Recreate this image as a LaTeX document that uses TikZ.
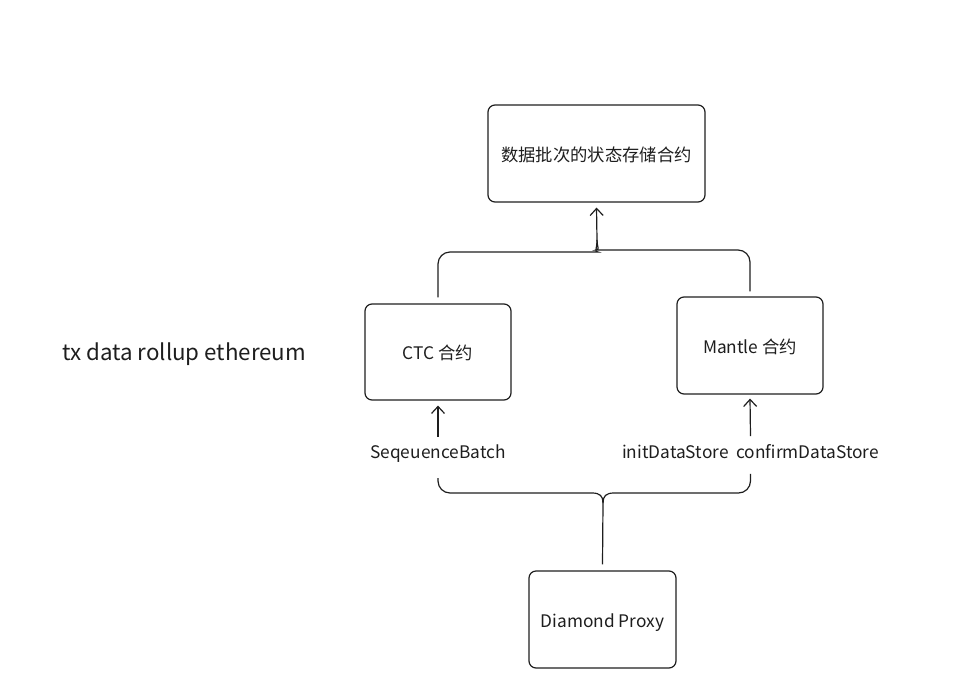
\documentclass[tikz,border=0pt]{standalone}
\usepackage{fontspec}
\setmainfont{Noto Sans CJK SC}
\usepackage{tikz}
\usetikzlibrary{positioning}
\usetikzlibrary{arrows.meta}
\definecolor{ink}{HTML}{1E1E1E}

\begin{document}
\begin{tikzpicture}[x=1pt, y=-1pt,
        box/.style={draw=ink, line width=1.2pt, rounded corners=7pt, minimum width=146pt, minimum height=96pt, text height=15pt, text depth=0pt, font=\fontsize{17.3}{19}\selectfont, text=ink},
        lbl/.style={font=\fontsize{17.3}{19}\selectfont, text=ink, inner sep=0pt},
        wire/.style={draw=ink, line width=1.2pt, rounded corners=12pt},
        up/.style={draw=ink, line width=1.2pt, -{Straight Barb[length=7pt,width=13pt]}}]
    \useasboundingbox (0,0) rectangle (971,693);
    \node[box, minimum width=217pt, minimum height=97pt] (store) at (596.5,153.5) {数据批次的状态存储合约};   %top
    \node[box] (ctc) at (438,352) {CTC 合约};
    \node[box, minimum height=97pt] (mantle) at (750,345.5) {Mantle 合约};
    \node[box, minimum width=147pt, minimum height=97pt] (proxy) at (602.5,619.5) {Diamond Proxy};   %bottom
    \node[anchor=west, font=\fontsize{22.3}{24}\selectfont, text=ink, inner sep=0pt] (title) at (62,354) {tx data rollup ethereum};
    \node[lbl] (seq) at (438,454) {SeqeuenceBatch};
    \node[lbl] (ds) at (750.5,451.5) {initDataStore\ \ confirmDataStore};

    \coordinate (jt) at (597,240);   %upper join
    \coordinate (jb) at (603,503);   %lower join
    \draw[wire] ([yshift=6pt]ctc.north) |- (586,252) [sharp corners] .. controls (594,252) and (597,249) .. (jt);
    \draw[wire] ([yshift=5pt]mantle.north) |- (608,250) [sharp corners] .. controls (600,250) and (597,247) .. (jt);
    \draw[up] (jt) -- ([yshift=-5pt]store.south);
    \draw[wire] ([yshift=6pt]proxy.north) -- (jb);
    \draw[wire] (jb) [sharp corners] .. controls (603,496) and (600,493) .. (592,493) [rounded corners=12pt] -| ([yshift=-15pt]seq.south);
    \draw[wire] (jb) [sharp corners] .. controls (603,496) and (606,493) .. (614,493) [rounded corners=12pt] -| ([yshift=-15pt]ds.south);
    \draw[up] ([yshift=8pt]seq.north) -- ([yshift=-5pt]ctc.south);
    \draw[up] ([yshift=8pt]ds.north) -- ([yshift=-4pt]mantle.south);
\end{tikzpicture}
\end{document}
